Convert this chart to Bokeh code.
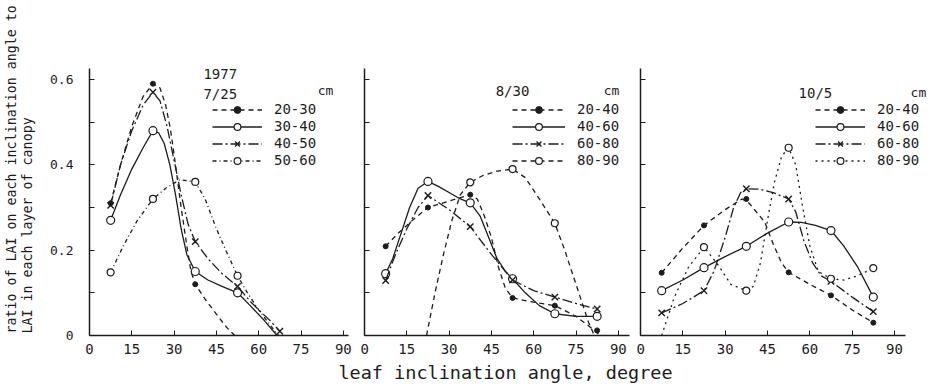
from bokeh.plotting import figure
from bokeh.layouts import row, column
from bokeh.models import Range1d, FixedTicker, Label, Legend, LegendItem
from bokeh.embed import file_html
from bokeh.resources import INLINE

FONT = "DejaVu Sans Mono"
INK = "#1c1c1c"

# ---------------- axis ticks ----------------
X_TICKS = [0, 15, 30, 45, 60, 75, 90]
Y_TICKS = [0, 0.2, 0.4, 0.6]
Y_MINOR = [0.1, 0.3, 0.5]
Y_ALL = [0, 0.1, 0.2, 0.3, 0.4, 0.5, 0.6]
Y_LABELS = {0: "0"}

# ---------------- panel 1 : 1977 7/25 ----------------
P1_DATE = "7/25"
P1_LAYERS = ["20-30", "30-40", "40-50", "50-60"]
# observed points (class centres)
P1_M1_X = [7.5, 22.5, 37.5]
P1_M1_Y = [0.31, 0.59, 0.12]
P1_M2_X = [7.5, 22.5, 37.5, 52.5]
P1_M2_Y = [0.27, 0.48, 0.15, 0.10]
P1_M3_X = [7.5, 22.5, 37.5, 52.5, 67.5]
P1_M3_Y = [0.305, 0.57, 0.22, 0.115, 0.01]
P1_M4_X = [7.5, 22.5, 37.5, 52.5]
P1_M4_Y = [0.148, 0.32, 0.36, 0.14]
# hand-drawn curves (traced)
P1_C1_X = [7.5, 11, 15, 19, 22.5, 25, 27, 28.7, 30.5, 32.5, 34.5, 36, 37.5, 41, 45, 48.5, 51.5]
P1_C1_Y = [0.31, 0.40, 0.49, 0.56, 0.59, 0.58, 0.54, 0.484, 0.40, 0.30, 0.21, 0.15, 0.12, 0.085, 0.05, 0.02, 0.0]
P1_C2_X = [7.5, 11, 15, 19, 22.5, 24.5, 26.5, 28.5, 30.5, 32.5, 34.5, 37.5, 42, 47, 52.5, 57, 62, 66.5]
P1_C2_Y = [0.27, 0.33, 0.39, 0.44, 0.48, 0.475, 0.45, 0.40, 0.33, 0.25, 0.19, 0.15, 0.13, 0.115, 0.10, 0.07, 0.035, 0.0]
P1_C3_X = [7.5, 11, 15, 19, 22.5, 25, 27.5, 30, 32.5, 35, 37.5, 42, 47, 52.5, 57, 60, 64, 67.5]
P1_C3_Y = [0.305, 0.40, 0.48, 0.54, 0.57, 0.55, 0.49, 0.41, 0.33, 0.26, 0.22, 0.18, 0.145, 0.115, 0.08, 0.06, 0.035, 0.01]
P1_C4_X = [7.5, 12, 17, 22.5, 27, 32, 37.5, 41, 45, 49, 52.5, 56, 60, 64, 67]
P1_C4_Y = [0.148, 0.21, 0.27, 0.32, 0.345, 0.365, 0.36, 0.32, 0.25, 0.19, 0.14, 0.10, 0.06, 0.025, 0.0]

# ---------------- panel 2 : 8/30 ----------------
P2_DATE = "8/30"
P2_LAYERS = ["20-40", "40-60", "60-80", "80-90"]
P2_M1_X = [7.5, 22.5, 37.5, 52.5, 67.5, 82.5]
P2_M1_Y = [0.209, 0.30, 0.33, 0.088, 0.07, 0.012]
P2_M2_X = [7.5, 22.5, 37.5, 52.5, 67.5, 82.5]
P2_M2_Y = [0.145, 0.361, 0.311, 0.133, 0.051, 0.045]
P2_M3_X = [7.5, 22.5, 37.5, 52.5, 67.5, 82.5]
P2_M3_Y = [0.129, 0.328, 0.255, 0.13, 0.09, 0.062]
P2_M4_X = [37.5, 52.5, 67.5]
P2_M4_Y = [0.359, 0.39, 0.263]
P2_C1_X = [7.5, 12, 17, 22.5, 30, 37.5, 40, 42.5, 45, 47.5, 50, 52.5, 60, 67.5, 75, 80, 83.5]
P2_C1_Y = [0.209, 0.24, 0.27, 0.30, 0.315, 0.33, 0.32, 0.28, 0.23, 0.16, 0.11, 0.088, 0.078, 0.07, 0.045, 0.02, 0.0]
P2_C2_X = [7.5, 10, 13, 16, 19, 22.5, 26, 30, 34, 37.5, 41, 44, 47, 50, 52.5, 57, 62, 67.5, 75, 82.5]
P2_C2_Y = [0.145, 0.18, 0.24, 0.30, 0.345, 0.361, 0.35, 0.335, 0.32, 0.311, 0.28, 0.23, 0.18, 0.15, 0.133, 0.10, 0.07, 0.051, 0.045, 0.045]
P2_C3_X = [7.5, 11, 15, 19, 22.5, 30, 37.5, 45, 52.5, 60, 67.5, 75, 82.5]
P2_C3_Y = [0.129, 0.19, 0.25, 0.30, 0.328, 0.295, 0.255, 0.19, 0.13, 0.105, 0.09, 0.075, 0.062]
P2_C4_X = [22, 25, 28, 31, 34, 37.5, 42, 47, 52.5, 57, 62, 67.5, 71, 74, 77, 79.5, 81.5]
P2_C4_Y = [0.0, 0.10, 0.19, 0.27, 0.33, 0.359, 0.375, 0.385, 0.39, 0.37, 0.32, 0.263, 0.20, 0.14, 0.08, 0.03, 0.0]

# ---------------- panel 3 : 10/5 ----------------
P3_DATE = "10/5"
P3_LAYERS = ["20-40", "40-60", "60-80", "80-90"]
P3_M1_X = [7.5, 22.5, 37.5, 52.5, 67.5, 82.5]
P3_M1_Y = [0.147, 0.258, 0.32, 0.148, 0.094, 0.030]
P3_M2_X = [7.5, 22.5, 37.5, 52.5, 67.5, 82.5]
P3_M2_Y = [0.105, 0.159, 0.209, 0.266, 0.246, 0.090]
P3_M3_X = [7.5, 22.5, 37.5, 52.5, 67.5, 82.5]
P3_M3_Y = [0.053, 0.105, 0.344, 0.32, 0.127, 0.056]
P3_M4_X = [22.5, 37.5, 52.5, 67.5, 82.5]
P3_M4_Y = [0.207, 0.105, 0.44, 0.133, 0.158]
P3_C1_X = [7.5, 15, 22.5, 30, 36, 38.5, 41, 44, 47, 50, 52.5, 60, 67.5, 75, 82.5]
P3_C1_Y = [0.147, 0.205, 0.258, 0.295, 0.32, 0.31, 0.29, 0.266, 0.215, 0.17, 0.148, 0.12, 0.094, 0.06, 0.030]
P3_C2_X = [7.5, 15, 22.5, 30, 37.5, 45, 52.5, 57, 62, 67.5, 72, 77, 82.5]
P3_C2_Y = [0.105, 0.13, 0.159, 0.185, 0.209, 0.24, 0.266, 0.265, 0.258, 0.246, 0.21, 0.16, 0.09]
P3_C3_X = [7.5, 15, 22.5, 26, 30, 33, 35.5, 37.5, 42, 47, 52.5, 55, 58, 61, 64, 67.5, 75, 82.5]
P3_C3_Y = [0.053, 0.075, 0.105, 0.15, 0.23, 0.30, 0.335, 0.344, 0.343, 0.335, 0.32, 0.29, 0.22, 0.17, 0.14, 0.127, 0.09, 0.056]
P3_C4_X = [7.5, 12, 17, 22.5, 27, 32, 37.5, 40, 42.5, 45, 47.5, 50, 52.5, 55, 57.5, 60, 63, 67.5, 72, 77, 82.5]
P3_C4_Y = [0.0, 0.09, 0.16, 0.207, 0.17, 0.12, 0.105, 0.115, 0.17, 0.27, 0.36, 0.42, 0.44, 0.40, 0.30, 0.21, 0.15, 0.133, 0.13, 0.14, 0.158]

Y_TITLE_1 = "ratio of LAI on each inclination angle to"
Y_TITLE_2 = "LAI in each layer of canopy"
X_TITLE = "leaf inclination angle, degree"

# ---------------- styles ----------------
MARK_STYLE = [
    dict(marker="circle", size=5, fill_color=INK, line_color=INK, line_width=1),
    dict(marker="circle", size=8, fill_color="white", line_color=INK, line_width=1.2),
    dict(marker="x", size=9, line_color=INK, line_width=1.4),
    dict(marker="circle", size=7, fill_color="white", line_color=INK, line_width=1.2),
]
P1_DASH = ["5 4", "solid", "10 3 2 3", "4 3 1 3"]
P2_DASH = ["5 4", "solid", "10 3 2 3", "5 4"]
P3_DASH = ["5 4", "solid", "10 3 2 3", "2 4"]

X_AXIS_END = 93.97


def make_panel(width, left, right, x_end, show_y):
    p = figure(width=width, height=363, x_range=Range1d(0, x_end), y_range=Range1d(0, 0.6257),
               output_backend="svg", toolbar_location=None,
               min_border_left=left, min_border_right=right, min_border_top=68, min_border_bottom=28)
    p.outline_line_color = None
    p.xgrid.visible = False
    p.ygrid.visible = False
    p.background_fill_color = "white"
    p.border_fill_color = "white"
    for ax in (p.xaxis[0], p.yaxis[0]):
        ax.axis_line_color = INK
        ax.axis_line_width = 1.5
        ax.major_tick_line_color = INK
        ax.minor_tick_line_color = INK
        ax.major_tick_in = 5
        ax.major_tick_out = 0
        ax.minor_tick_in = 5
        ax.minor_tick_out = 0
        ax.major_label_text_font = FONT
        ax.major_label_text_color = INK
    xa = p.xaxis[0]
    xa.ticker = FixedTicker(ticks=X_TICKS, minor_ticks=[])
    xa.major_label_text_font_size = "14px"
    xa.major_label_standoff = 8
    ya = p.yaxis[0]
    if show_y:
        ya.ticker = FixedTicker(ticks=Y_TICKS, minor_ticks=Y_MINOR)
        ya.major_label_text_font_size = "13px"
        ya.major_label_standoff = 16
        ya.major_label_overrides = Y_LABELS
    else:
        # ticks only, no labels: all tick marks drawn as minor ticks
        ya.ticker = FixedTicker(ticks=[], minor_ticks=Y_ALL)
        ya.major_label_standoff = 0
    return p


def draw_series(p, curves, marks, dashes, layers, loc, glyph_w):
    items = []
    for i, ((cx, cy), (mx, my), dash, lab) in enumerate(zip(curves, marks, dashes, layers)):
        lr = p.line(cx, cy, line_color=INK, line_width=1.3, line_dash=dash)
        sr = p.scatter(mx, my, **MARK_STYLE[i])
        items.append(LegendItem(label=lab, renderers=[lr, sr]))
    leg = Legend(items=items, location=loc, glyph_width=glyph_w, glyph_height=17, label_height=17,
                 spacing=0, padding=0, margin=0, label_standoff=12,
                 border_line_alpha=0, background_fill_alpha=0,
                 label_text_font=FONT, label_text_font_size="14px", label_text_color=INK)
    p.add_layout(leg)


def add_text(p, x, y, text, size="14px", **kw):
    p.add_layout(Label(x=x, y=y, text=text, text_font=FONT, text_font_size=size, text_color=INK,
                       text_align=kw.get("align", "left"), text_baseline="middle",
                       angle=kw.get("angle", 0)))


def blank_strip(width, height):
    f = figure(width=width, height=height, x_range=Range1d(0, width), y_range=Range1d(0, height),
               output_backend="svg", toolbar_location=None, min_border=0,
               x_axis_location=None, y_axis_location=None)
    f.outline_line_color = None
    f.xgrid.visible = False
    f.ygrid.visible = False
    return f


# left strip (full height) holding the two-line y title
p0 = blank_strip(40, 390)
add_text(p0, 11, 57, Y_TITLE_1, "13.3px", angle=1.5707963)
add_text(p0, 27, 57, Y_TITLE_2, "13.3px", angle=1.5707963)

p1 = make_panel(320, 49, 12, 91.84, True)
draw_series(p1,
            [(P1_C1_X, P1_C1_Y), (P1_C2_X, P1_C2_Y), (P1_C3_X, P1_C3_Y), (P1_C4_X, P1_C4_Y)],
            [(P1_M1_X, P1_M1_Y), (P1_M2_X, P1_M2_Y), (P1_M3_X, P1_M3_Y), (P1_M4_X, P1_M4_Y)],
            P1_DASH, P1_LAYERS, (123, 166.5), 50)
add_text(p1, 40.4, 0.612, "1977")
add_text(p1, 40.4, 0.567, P1_DATE)
add_text(p1, 80.9, 0.574, "cm", "13px")

p2 = make_panel(276, 4, 7, X_AXIS_END, False)
draw_series(p2,
            [(P2_C1_X, P2_C1_Y), (P2_C2_X, P2_C2_Y), (P2_C3_X, P2_C3_Y), (P2_C4_X, P2_C4_Y)],
            [(P2_M1_X, P2_M1_Y), (P2_M2_X, P2_M2_Y), (P2_M3_X, P2_M3_Y), (P2_M4_X, P2_M4_Y)],
            P2_DASH, P2_LAYERS, (148, 166.5), 53)
add_text(p2, 46.5, 0.574, P2_DATE)
add_text(p2, 84.8, 0.574, "cm", "13px")

# panel 3 frame runs to the page edge so its legend fits; its axis line stops at ~94 degrees
p3 = make_panel(296, 4, 0, 292 / 2.822, False)
p3.xaxis[0].bounds = (0, X_AXIS_END)
draw_series(p3,
            [(P3_C1_X, P3_C1_Y), (P3_C2_X, P3_C2_Y), (P3_C3_X, P3_C3_Y), (P3_C4_X, P3_C4_Y)],
            [(P3_M1_X, P3_M1_Y), (P3_M2_X, P3_M2_Y), (P3_M3_X, P3_M3_Y), (P3_M4_X, P3_M4_Y)],
            P3_DASH, P3_LAYERS, (175, 166.5), 50)
add_text(p3, 56.0, 0.569, P3_DATE)
add_text(p3, 95.7, 0.569, "cm", "13px")

# bottom strip holding the shared x title
pt = blank_strip(892, 27)
add_text(pt, 465, 18, X_TITLE, "18.5px", align="center")

layout = row(p0, column(row(p1, p2, p3, spacing=0), pt, spacing=0), spacing=0)
open("out.html", "w").write(file_html(layout, INLINE))
